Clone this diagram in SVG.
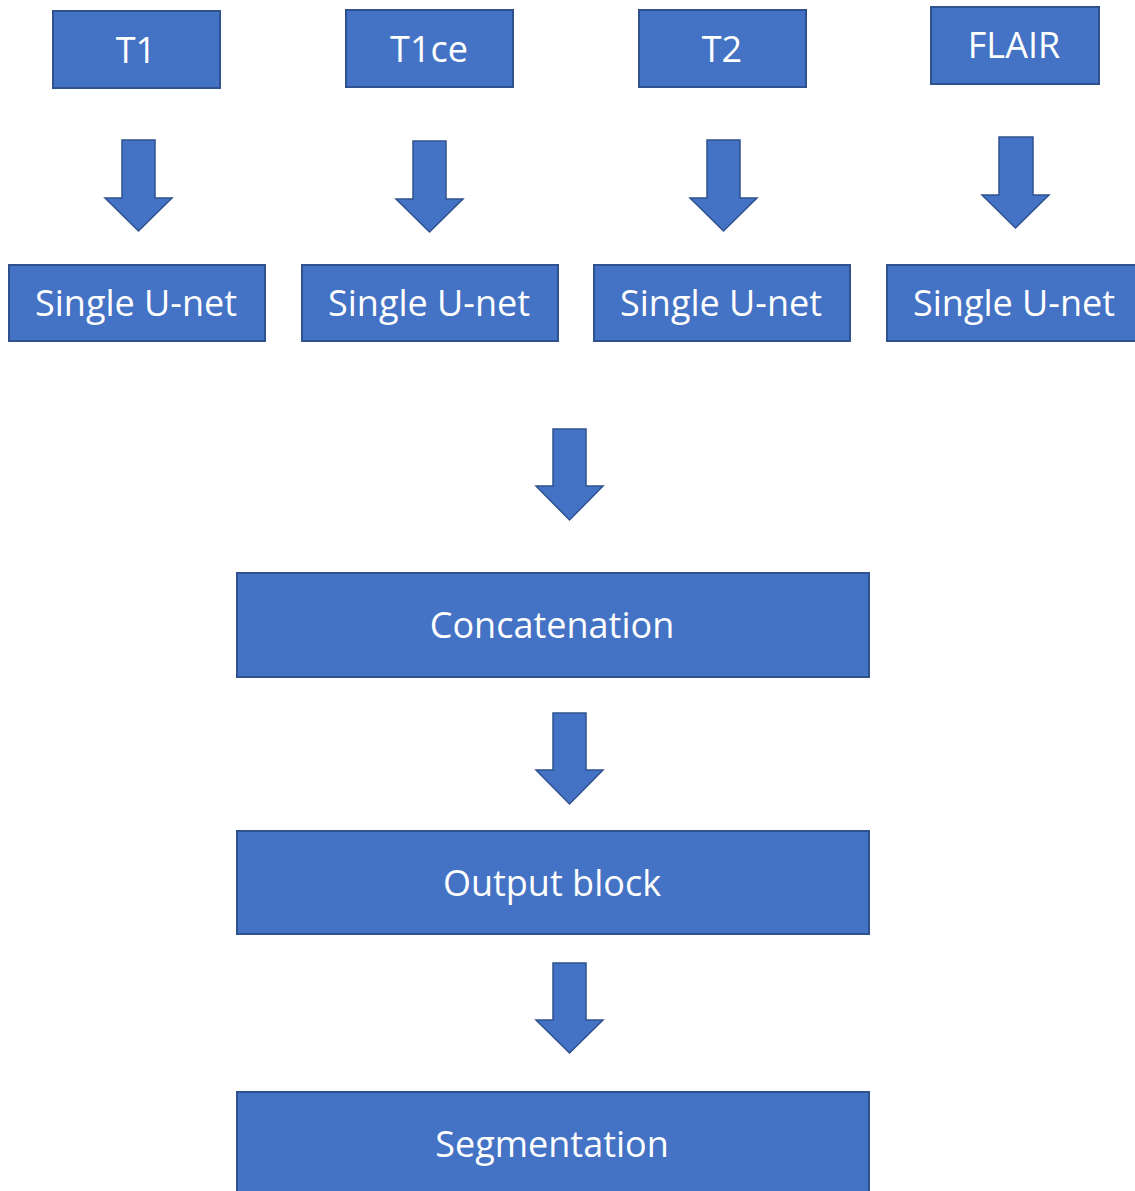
<svg xmlns="http://www.w3.org/2000/svg" width="1135" height="1191" viewBox="0 0 1135 1191">
<style>
.box{fill:#4472C4;stroke:#2F528F;stroke-width:2}
.arr{fill:#4472C4;stroke:#2F528F;stroke-width:1.5;stroke-linejoin:miter}
.lbl{fill:#FFFFFF;font-family:"Open Sans","Noto Sans",sans-serif;font-size:36px;text-anchor:middle}
</style>
<rect width="1135" height="1191" fill="#FFFFFF"/>
<g id="t1"><rect class="box" x="53" y="11" width="167" height="77"/><text class="lbl" x="136" y="63">T1</text></g>
<g id="t1ce"><rect class="box" x="346" y="10" width="167" height="77"/><text class="lbl" x="429" y="62">T1ce</text></g>
<g id="t2"><rect class="box" x="639" y="10" width="167" height="77"/><text class="lbl" x="722" y="62">T2</text></g>
<g id="flair"><rect class="box" x="931" y="7" width="168" height="77"/><text class="lbl" x="1014" y="58">FLAIR</text></g>
<g id="unet1"><rect class="box" x="9" y="265" width="256" height="76"/><text class="lbl" x="136" y="316">Single U-net</text></g>
<g id="unet2"><rect class="box" x="302" y="265" width="256" height="76"/><text class="lbl" x="429" y="316">Single U-net</text></g>
<g id="unet3"><rect class="box" x="594" y="265" width="256" height="76"/><text class="lbl" x="721" y="316">Single U-net</text></g>
<g id="unet4"><rect class="box" x="887" y="265" width="256" height="76"/><text class="lbl" x="1014" y="316">Single U-net</text></g>
<g id="concat"><rect class="box" x="237" y="573" width="632" height="104"/><text class="lbl" x="552" y="638">Concatenation</text></g>
<g id="output"><rect class="box" x="237" y="831" width="632" height="103"/><text class="lbl" x="552" y="896">Output block</text></g>
<g id="seg"><rect class="box" x="237" y="1092" width="632" height="110"/><text class="lbl" x="552" y="1157">Segmentation</text></g>
<g id="connectors">
<path class="arr" d="M122,140 H155 V198 H172 L138.5,231 L105,198 H122 Z"/>
<path class="arr" d="M413,141 H446 V199 H463 L429.5,232 L396,199 H413 Z"/>
<path class="arr" d="M707,140 H740 V198 H757 L723.5,231 L690,198 H707 Z"/>
<path class="arr" d="M999,137 H1033 V195 H1049 L1015.5,228 L982,195 H999 Z"/>
<path class="arr" d="M553,429 H586 V486 H603 L569.5,520 L536,486 H553 Z"/>
<path class="arr" d="M553,713 H586 V770 H603 L569.5,804 L536,770 H553 Z"/>
<path class="arr" d="M553,963 H586 V1020 H603 L569.5,1053 L536,1020 H553 Z"/>
</g>
</svg>
